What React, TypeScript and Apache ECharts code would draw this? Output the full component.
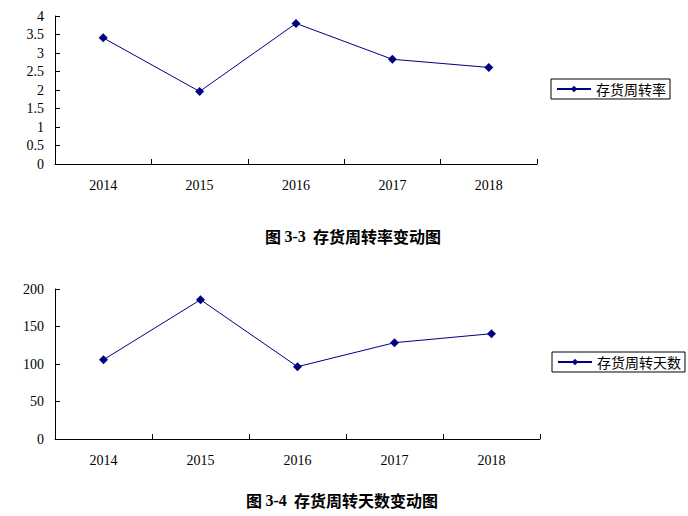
import React, { useEffect, useRef } from "react";
import * as echarts from "echarts";

const years = ["2014", "2015", "2016", "2017", "2018"];
const turnoverRate = [3.41, 1.96, 3.8, 2.83, 2.61];
const turnoverDays = [105.7, 185.7, 96.4, 128.4, 140.4];
const rateName = "存货周转率";
const daysName = "存货周转天数";

const NAVY = "#000080";
const SERIF = "'Liberation Serif', 'DejaVu Serif', serif";
const CJK = "'Noto Sans CJK SC', sans-serif";

export default function App() {
  const ref = useRef<HTMLDivElement>(null);
  useEffect(() => {
    document.body.style.margin = "0";
    if (!ref.current) return;
    const chart = echarts.init(ref.current, undefined, { renderer: "svg" });
    const xAxisBase = (gridIndex: number) => ({
      type: "category" as const,
      gridIndex,
      data: years,
      boundaryGap: true,
      axisLine: { show: true, lineStyle: { color: "#000", width: 1 } },
      axisTick: { show: true, inside: true, length: 5, lineStyle: { color: "#000" } },
      axisLabel: { color: "#000", fontFamily: SERIF, fontSize: 14, margin: 14 },
      splitLine: { show: false },
    });
    const yAxisBase = (gridIndex: number, max: number, interval: number) => ({
      type: "value" as const,
      gridIndex,
      min: 0,
      max,
      interval,
      axisLine: { show: true, lineStyle: { color: "#000", width: 1 } },
      axisTick: { show: true, inside: true, length: 5, lineStyle: { color: "#000" } },
      axisLabel: { color: "#000", fontFamily: SERIF, fontSize: 14, margin: 11 },
      splitLine: { show: false },
    });
    const legendBase = {
      orient: "vertical" as const,
      borderColor: "#000",
      borderWidth: 1,
      borderRadius: 0,
      padding: [3, 4, 3, 5],
      itemWidth: 34,
      itemHeight: 8,
      itemGap: 2,
      textStyle: { color: "#000", fontFamily: CJK, fontSize: 14 },
    };
    const seriesBase = {
      type: "line" as const,
      symbol: "diamond",
      symbolSize: 9,
      lineStyle: { color: NAVY, width: 1 },
      itemStyle: { color: NAVY },
    };
    const rich = {
      a: { fontFamily: CJK, fontSize: 16, fontWeight: "bold", fill: "#000" },
      b: { fontFamily: SERIF, fontSize: 16, fontWeight: "bold", fill: "#000" },
    };
    chart.setOption({
      animation: false,
      backgroundColor: "#fff",
      grid: [
        { left: 55, top: 16, width: 482, height: 148 },
        { left: 55, top: 289, width: 485, height: 150 },
      ],
      xAxis: [xAxisBase(0), xAxisBase(1)],
      yAxis: [yAxisBase(0, 4, 0.5), yAxisBase(1, 200, 50)],
      legend: [
        { ...legendBase, data: [rateName], left: 551, top: 79 },
        { ...legendBase, data: [daysName], left: 552, top: 352 },
      ],
      series: [
        { ...seriesBase, name: rateName, xAxisIndex: 0, yAxisIndex: 0, data: turnoverRate },
        { ...seriesBase, name: daysName, xAxisIndex: 1, yAxisIndex: 1, data: turnoverDays },
      ],
      graphic: [
        {
          type: "text",
          x: 353,
          y: 236,
          style: {
            text: "{a|图 }{b|3-3}{a|  存货周转率变动图}",
            rich,
            align: "center",
            verticalAlign: "middle",
          },
        },
        {
          type: "text",
          x: 342,
          y: 500,
          style: {
            text: "{a|图 }{b|3-4}{a|  存货周转天数变动图}",
            rich,
            align: "center",
            verticalAlign: "middle",
          },
        },
      ],
    });
    return () => chart.dispose();
  }, []);
  return <div ref={ref} style={{ width: 688, height: 516 }} />;
}
